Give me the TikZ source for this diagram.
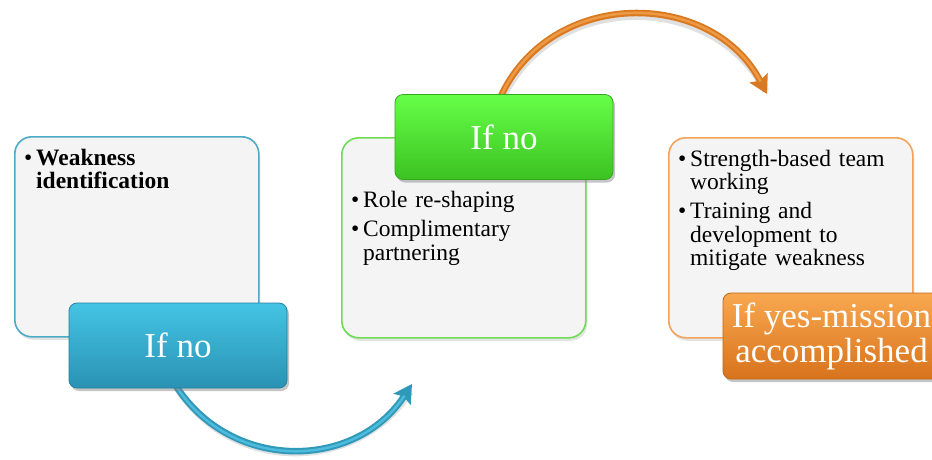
\documentclass[tikz,border=0pt]{standalone}
\usepackage{fontspec}
\setmainfont{Liberation Serif}
\usetikzlibrary{shadows,arrows.meta}

\definecolor{panelfill}{HTML}{F4F4F4}
\definecolor{bluerim}{HTML}{4BACC6}
\definecolor{greenrim}{HTML}{6EDC55}
\definecolor{orangerim}{HTML}{F4A35A}
\definecolor{bluetop}{HTML}{44C4E4}
\definecolor{bluemid}{HTML}{38B0D4}
\definecolor{bluebot}{HTML}{2A92B4}
\definecolor{blueedge}{HTML}{24809C}
\definecolor{greentop}{HTML}{66FF48}
\definecolor{greenmid}{HTML}{52EC34}
\definecolor{greenbot}{HTML}{3CC222}
\definecolor{greenedge}{HTML}{34A81E}
\definecolor{orangetop}{HTML}{F8A850}
\definecolor{orangemid}{HTML}{F08C30}
\definecolor{orangebot}{HTML}{D8731C}
\definecolor{orangeedge}{HTML}{C0661A}
\definecolor{tubeblue}{HTML}{3099BA}
\definecolor{tubebluehi}{HTML}{4DBCDC}
\definecolor{tubeorange}{HTML}{D97A22}
\definecolor{tubeorangehi}{HTML}{EE9A44}

\pgfdeclarelayer{back}
\pgfsetlayers{back,main}

% hanging bullet item, no hyphenation
\newcommand{\bulitem}[1]{\hyphenpenalty=10000\exhyphenpenalty=10000\hangindent=12pt\hangafter=1\noindent\makebox[12pt][l]{\textbullet}#1\par}

\tikzset{
  panel/.style={draw=#1, line width=1.6pt, fill=panelfill, rounded corners=17pt,
    minimum width=244pt, minimum height=200pt, anchor=north west, inner sep=0pt,
    drop shadow={opacity=0.22, shadow xshift=1.5pt, shadow yshift=-3pt}},
  button/.style args={#1/#2/#3/#4}{draw=#4, line width=0.8pt, rounded corners=8pt,
    top color=#1, middle color=#2, bottom color=#3,
    minimum width=218pt, minimum height=85pt, inner sep=0pt,
    text=white, font=\fontsize{35}{35}\selectfont, align=center,
    drop shadow={opacity=0.45, shadow xshift=2pt, shadow yshift=-3pt}},
  itemtext/.style={anchor=base west, inner sep=0pt, text width=216pt, align=left,
    font=\fontsize{23.5}{23.5}\selectfont},
  tube/.style={line width=6.5pt, draw=#1, -{Stealth[length=18pt,width=20pt,inset=3pt]}},
  tubehi/.style={line width=2.5pt, draw=#1, shorten >=14pt, shorten <=1pt},
  tubeshade/.style={line width=7pt, draw=black, opacity=0.12, shorten >=6pt,
    transform canvas={xshift=1.5pt,yshift=-2.5pt}},
}

\begin{document}
\begin{tikzpicture}[x=1pt,y=-1pt]
\clip (0,0) rectangle (932,459);

% first stage
\node[panel=bluerim] (p1) at (14,136) {};
\node[itemtext] (t1) at (24,165) {\parskip=5.5pt\bulitem{\textbf{Weakness identification}}};
\node[button=bluetop/bluemid/bluebot/blueedge] (b1) at (178,345.5) {If no};

% second stage
\node[panel=greenrim] (p2) at (341,137) {};
\node[itemtext] (t2) at (351,207.7) {\parskip=5.5pt\bulitem{Role re-shaping}\bulitem{Complimentary partnering}};
\node[button=greentop/greenmid/greenbot/greenedge] (b2) at (504,137) {If no};

% third stage
\node[panel=orangerim] (p3) at (668,137) {};
\node[itemtext] (t3) at (678,166) {\parskip=5.5pt\bulitem{Strength-based team working}\bulitem{Training and development to mitigate weakness}};
\node[button=orangetop/orangemid/orangebot/orangeedge, minimum width=217pt, minimum height=86pt] (b3) at (831.5,336) {If yes-mission\\accomplished};

% curved connectors behind the buttons
\coordinate (e1) at (412,384);
\coordinate (e2) at (767,94);
\begin{pgfonlayer}{back}
  \fill[white] (0,0) rectangle (932,459);
  \draw[tubeshade]
    ([xshift=-3pt,yshift=4pt]b1.south) .. controls (231,473) and (356,470) .. (e1);
  \draw[tube=tubeblue]
    ([xshift=-3pt,yshift=4pt]b1.south) .. controls (231,473) and (356,470) .. (e1);
  \draw[tubehi=tubebluehi]
    ([xshift=-3pt,yshift=4pt]b1.south) .. controls (231,473) and (356,470) .. (e1);
  \draw[tubeshade]
    ([xshift=-4pt,yshift=-4pt]b2.north) .. controls (550,-13) and (712,-12) .. (e2);
  \draw[tube=tubeorange]
    ([xshift=-4pt,yshift=-4pt]b2.north) .. controls (550,-13) and (712,-12) .. (e2);
  \draw[tubehi=tubeorangehi]
    ([xshift=-4pt,yshift=-4pt]b2.north) .. controls (550,-13) and (712,-12) .. (e2);
\end{pgfonlayer}
\end{tikzpicture}
\end{document}
